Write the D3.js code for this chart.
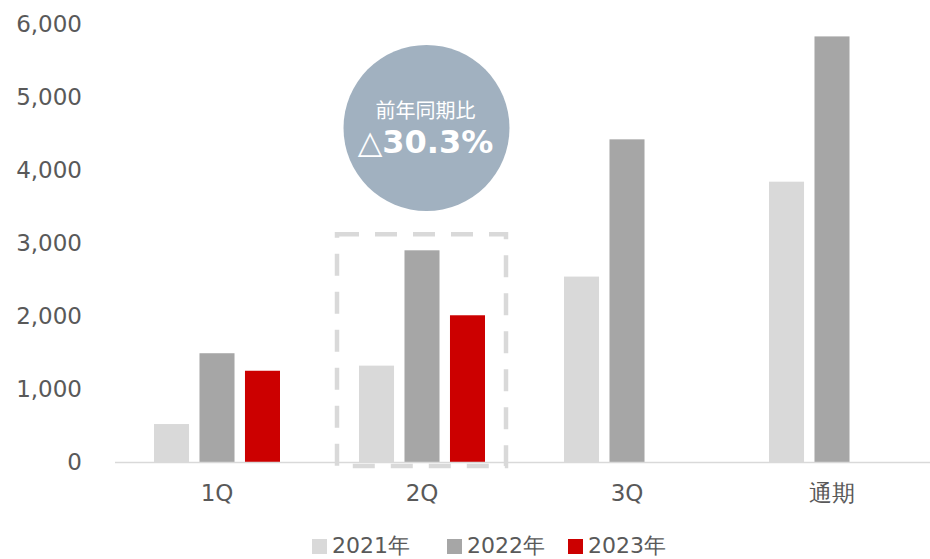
<!DOCTYPE html>
<meta charset="utf-8">
<style>

body {
  margin: 0;
  background: #fff;
}

text {
  font-family: "DejaVu Sans", Verdana, sans-serif;
  fill: #595959;
}

</style>
<body>
<script src="https://cdn.jsdelivr.net/npm/d3@7"></script>
<script>

var categories = ["1Q", "2Q", "3Q", "通期"];
var series = ["2021年", "2022年", "2023年"];
var values2021 = [520, 1320, 2540, 3840];
var values2022 = [1490, 2900, 4420, 5830];
var values2023 = [1250, 2010, null, null];
var yTicks = [0, 1000, 2000, 3000, 4000, 5000, 6000];
var colors = ["#d9d9d9", "#a6a6a6", "#cc0000"];

var width = 930,
    height = 559;

var svg = d3.select("body").append("svg")
    .attr("width", width)
    .attr("height", height);

var x0 = d3.scaleBand()
    .domain(categories)
    .range([114.5, 934.5]);

var x1 = d3.scaleBand()
    .domain(series)
    .range([39.5, 165.5])
    .paddingInner(0.23);

var y = d3.scaleLinear()
    .domain([0, 6000])
    .range([462, 24]);

var color = d3.scaleOrdinal().domain(series).range(colors);

// y tick labels, no axis line
svg.append("g")
    .attr("transform", "translate(82,0)")
    .call(d3.axisLeft(y).tickValues(yTicks).tickSize(0).tickPadding(0).tickFormat(d3.format(",")))
    .call(function(g) { g.select(".domain").remove(); })
    .selectAll("text")
    .attr("font-size", 23)
    .attr("font-family", null)
    .attr("fill", "#595959");

var rows = [];
categories.forEach(function(c, i) {
  [values2021, values2022, values2023].forEach(function(arr, j) {
    if (arr[i] != null) rows.push({cat: c, s: series[j], v: arr[i]});
  });
});

svg.append("g").selectAll("rect")
    .data(rows)
  .enter().append("rect")
    .attr("x", function(d) { return x0(d.cat) + x1(d.s); })
    .attr("y", function(d) { return y(d.v); })
    .attr("width", x1.bandwidth())
    .attr("height", function(d) { return y(0) - y(d.v); })
    .attr("fill", function(d) { return color(d.s); });

// baseline
svg.append("line")
    .attr("x1", 115)
    .attr("x2", 930)
    .attr("y1", y(0) + 0.5)
    .attr("y2", y(0) + 0.5)
    .attr("stroke", "#d9d9d9")
    .attr("stroke-width", 1.5);

// category labels
svg.append("g")
    .attr("transform", "translate(0," + y(0) + ")")
    .call(d3.axisBottom(x0).tickSize(0).tickPadding(23))
    .call(function(g) { g.select(".domain").remove(); })
    .selectAll("text")
    .attr("font-size", 23)
    .attr("font-family", null)
    .attr("fill", "#595959");

// dashed highlight round 2Q
svg.append("rect")
    .attr("x", x0("2Q") + 17.5)
    .attr("y", y(3120))
    .attr("width", 169)
    .attr("height", y(-55) - y(3120))
    .attr("fill", "none")
    .attr("stroke", "#d9d9d9")
    .attr("stroke-width", 4.5)
    .attr("stroke-dasharray", "22,16");

// year-on-year bubble
var cx = x0("2Q") + x0.bandwidth() / 2 + 4.5;
svg.append("circle")
    .attr("cx", cx)
    .attr("cy", 128)
    .attr("r", 83)
    .attr("fill", "#a1b1c0");

svg.append("text")
    .attr("x", cx - 1)
    .attr("y", 118)
    .attr("text-anchor", "middle")
    .attr("font-size", 20)
    .style("font-family", "'Noto Sans CJK JP', sans-serif")
    .style("fill", "#fff")
    .text("前年同期比");

svg.append("text")
    .attr("x", cx - 1)
    .attr("y", 153)
    .attr("text-anchor", "middle")
    .attr("font-size", 32)
    .attr("font-weight", "bold")
    .style("fill", "#fff")
    .text("△30.3%");

// legend
var legendX = [312, 447, 568];
var legend = svg.append("g").selectAll("g")
    .data(series)
  .enter().append("g")
    .attr("transform", function(d, i) { return "translate(" + legendX[i] + ",0)"; });

legend.append("rect")
    .attr("y", 539)
    .attr("width", 15)
    .attr("height", 15)
    .attr("fill", function(d) { return color(d); });

legend.append("text")
    .attr("x", 20)
    .attr("y", 553)
    .attr("font-size", 22)
    .text(function(d) { return d; });

</script>
